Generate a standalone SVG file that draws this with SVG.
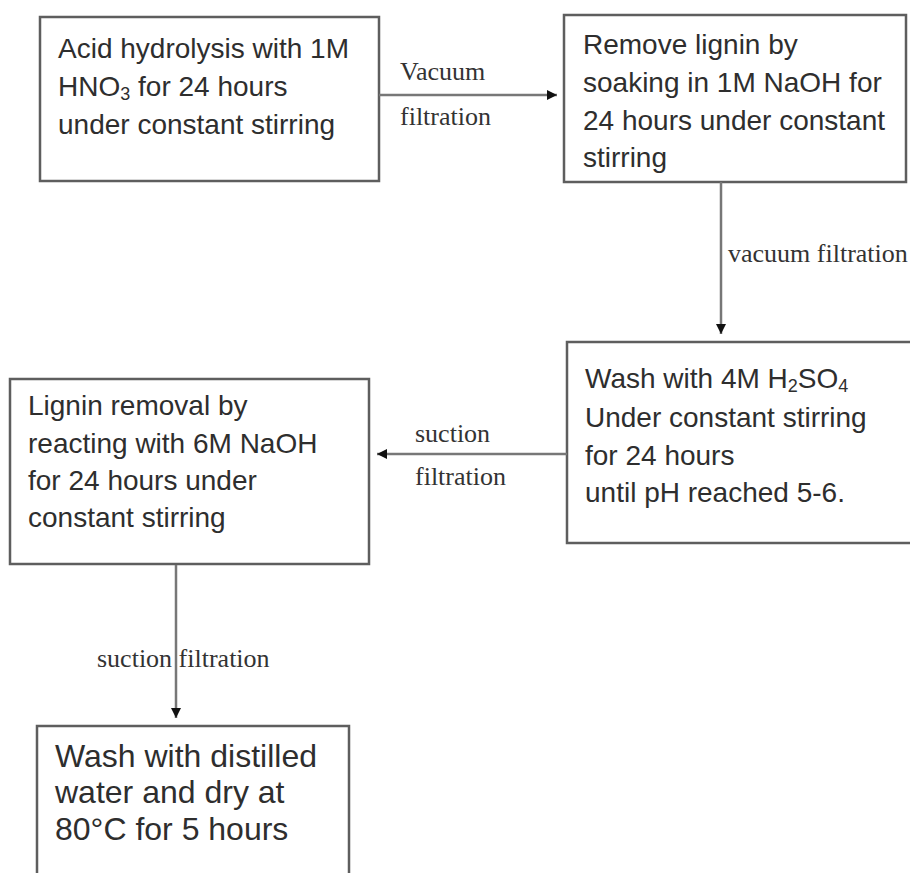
<svg xmlns="http://www.w3.org/2000/svg" width="910" height="873" viewBox="0 0 910 873">
<style>
.box{fill:#ffffff;stroke:#5e5e5e;stroke-width:2.5}
.t{font-family:"Liberation Sans",Arial,sans-serif;font-size:28px;fill:#2e2e2e}
.t5{font-family:"Liberation Sans",Arial,sans-serif;font-size:32px;fill:#2e2e2e}
.lbl{font-family:"Liberation Serif","Times New Roman",serif;font-size:26px;fill:#333333}
.con{fill:none;stroke:#777777;stroke-width:2.5}
.sub{font-size:18px}
</style>
<defs>
<marker id="ah" markerUnits="userSpaceOnUse" markerWidth="12" markerHeight="12" viewBox="0 0 12 12" refX="11" refY="6" orient="auto">
<path d="M1,1 L11,6 L1,11 Z" fill="#111111"/>
</marker>
</defs>
<rect width="910" height="873" fill="#ffffff"/>
<g id="node1">
<rect class="box" x="40" y="17" width="339" height="164"/>
<text class="t" x="58" y="58">Acid hydrolysis with 1M</text>
<text class="t" x="58" y="96">HNO<tspan class="sub" dy="4">3</tspan><tspan dy="-4"> for 24 hours</tspan></text>
<text class="t" x="58" y="134">under constant stirring</text>
</g>
<g id="node2">
<rect class="box" x="564" y="15" width="342" height="167"/>
<text class="t" x="583" y="54">Remove lignin by</text>
<text class="t" x="583" y="92">soaking in 1M NaOH for</text>
<text class="t" x="583" y="130">24 hours under constant</text>
<text class="t" x="583" y="167">stirring</text>
</g>
<g id="node3">
<rect class="box" x="567" y="342" width="360" height="201"/>
<text class="t" x="585" y="388">Wash with 4M H<tspan class="sub" dy="4">2</tspan><tspan dy="-4">SO</tspan><tspan class="sub" dy="4">4</tspan></text>
<text class="t" x="585" y="427">Under constant stirring</text>
<text class="t" x="585" y="465">for 24 hours</text>
<text class="t" x="585" y="502">until pH reached 5-6.</text>
</g>
<g id="node4">
<rect class="box" x="10" y="379" width="359" height="185"/>
<text class="t" x="28" y="415">Lignin removal by</text>
<text class="t" x="28" y="453">reacting with 6M NaOH</text>
<text class="t" x="28" y="490">for 24 hours under</text>
<text class="t" x="28" y="527">constant stirring</text>
</g>
<g id="node5">
<rect class="box" x="37" y="726" width="312" height="180"/>
<text class="t5" x="55" y="767">Wash with distilled</text>
<text class="t5" x="55" y="803">water and dry at</text>
<text class="t5" x="55" y="840">80°C for 5 hours</text>
</g>
<g id="connectors">
<text class="lbl" x="400" y="80">Vacuum</text>
<text class="lbl" x="400" y="125">filtration</text>
<line class="con" x1="379" y1="95" x2="557" y2="95" marker-end="url(#ah)"/>
<text class="lbl" x="728" y="262">vacuum filtration</text>
<line class="con" x1="721" y1="182" x2="721" y2="334" marker-end="url(#ah)"/>
<text class="lbl" x="415" y="442">suction</text>
<text class="lbl" x="415" y="485">filtration</text>
<line class="con" x1="567" y1="454" x2="377" y2="454" marker-end="url(#ah)"/>
<text class="lbl" x="97" y="667">suction filtration</text>
<line class="con" x1="176" y1="565" x2="176" y2="718" marker-end="url(#ah)"/>
</g>
</svg>
